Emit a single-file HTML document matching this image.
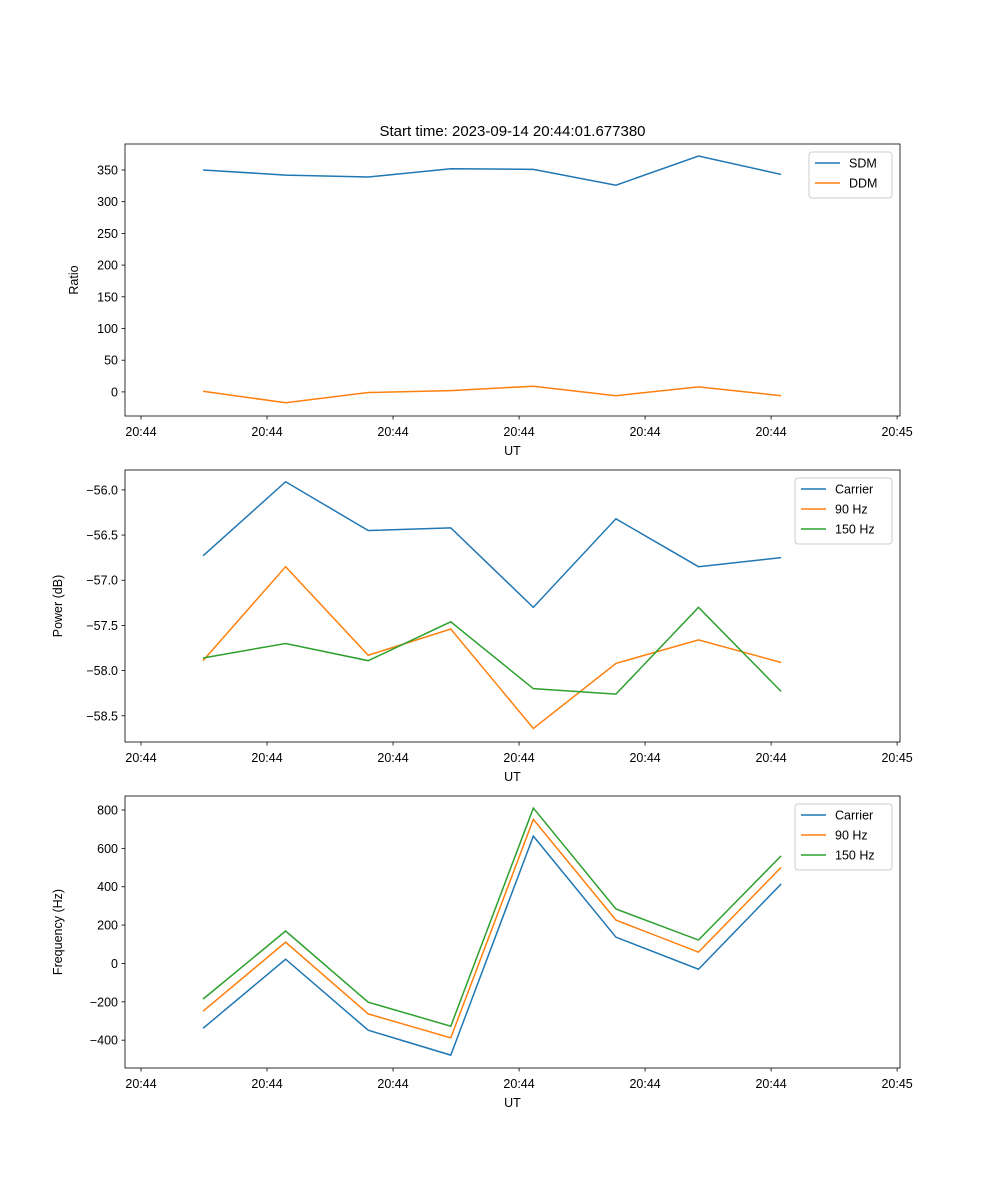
<!DOCTYPE html>
<html><head><meta charset="utf-8"><style>body{margin:0;background:#fff}svg{display:block;font-family:"Liberation Sans","DejaVu Sans",sans-serif}</style></head>
<body>
<svg id="fig" width="1000" height="1200"></svg>
<script>
const categories=[0,1,2,3,4,5,6,7];
const xTickLabels=["20:44","20:44","20:44","20:44","20:44","20:44","20:45"];
const sdm=[350,342,339,352,351,326,372,343];
const ddm=[1,-17,-1,2,9,-6,8,-6];
const powCarrier=[-56.73,-55.91,-56.45,-56.42,-57.30,-56.32,-56.85,-56.75];
const pow90=[-57.89,-56.85,-57.83,-57.54,-58.64,-57.92,-57.66,-57.91];
const pow150=[-57.86,-57.70,-57.89,-57.46,-58.20,-58.26,-57.30,-58.23];
const freqCarrier=[-338,22,-348,-478,664,137,-30,414];
const freq90=[-249,111,-263,-388,751,226,59,501];
const freq150=[-186,169,-202,-327,810,284,122,561];
const ticks1=[0,50,100,150,200,250,300,350];
const ticks2=[-58.5,-58.0,-57.5,-57.0,-56.5,-56.0];
const ticks3=[-400,-200,0,200,400,600,800];
const C=["#1f77b4","#ff7f0e","#2ca02c"];
const NS="http://www.w3.org/2000/svg";
const svg=document.getElementById('fig');
function el(t,a,p){const e=document.createElementNS(NS,t);for(const k in a)e.setAttribute(k,a[k]);(p||svg).appendChild(e);return e;}
const L=125,R=900,xmin=-0.945,xmax=8.44;
const xs=v=>L+(v-xmin)/(xmax-xmin)*(R-L);
const xTickPos=[-0.751,0.775,2.301,3.827,5.353,6.879,8.405];
function panel(top,bot,ymin,ymax,ticks,fmt,ylabel,series,names,legW,id){
  const g=el('g',{});
  
  
  const ys=v=>bot-(v-ymin)/(ymax-ymin)*(bot-top);
  ticks.forEach(t=>{const y=ys(t);el('line',{x1:L-3.5,x2:L,y1:y,y2:y,stroke:'#000','stroke-width':0.8},g);
    const tx=el('text',{x:L-7,y:y+4.5,'text-anchor':'end','font-size':12.5},g);tx.textContent=fmt(t);
    });
  xTickPos.forEach((p,i)=>{const x=xs(p);el('line',{x1:x,x2:x,y1:bot,y2:bot+3.5,stroke:'#000','stroke-width':0.8},g);
    const tx=el('text',{x:x,y:bot+20,'text-anchor':'middle','font-size':12.5},g);tx.textContent=xTickLabels[i];
    });
  const xl=el('text',{x:(L+R)/2,y:bot+39,'text-anchor':'middle','font-size':12.5},g);xl.textContent='UT';
  
  const yl=el('text',{x:0,y:0,'text-anchor':'middle','font-size':12.5,transform:`translate(${L-(ylabel.length>6?63:47)},${(top+bot)/2}) rotate(-90)`},g);yl.textContent=ylabel;
  
  series.forEach((s,k)=>{const pl=el('polyline',{points:s.map((v,i)=>xs(categories[i])+','+ys(v)).join(' '),fill:'none',stroke:C[k],'stroke-width':1.5},g);
    });
  el('rect',{x:L,y:top,width:R-L,height:bot-top,fill:'none',stroke:'#000','stroke-width':0.8},g);
  const lg=el('g',{},g);
  const lx=R-8-legW,ly=top+8,h=6+names.length*20;
  el('rect',{x:lx,y:ly,width:legW,height:h,rx:3,fill:'#fff','fill-opacity':0.8,stroke:'#ccc'},lg);
  names.forEach((n,k)=>{const y=ly+11+k*20;el('line',{x1:lx+6,x2:lx+31,y1:y,y2:y,stroke:C[k],'stroke-width':1.5},lg);
    const t=el('text',{x:lx+40,y:y+4.5,'font-size':12.5},lg);t.textContent=n;
    });
}
panel(144,416,-38,391,ticks1,t=>String(t),'Ratio',[sdm,ddm],['SDM','DDM'],83,'ratio');
panel(470,742,-58.79,-55.78,ticks2,t=>'\u2212'+Math.abs(t).toFixed(1),'Power (dB)',[powCarrier,pow90,pow150],['Carrier','90 Hz','150 Hz'],97,'power');
panel(796,1068,-545,873,ticks3,t=>(t<0?'\u2212':'')+Math.abs(t),'Frequency (Hz)',[freqCarrier,freq90,freq150],['Carrier','90 Hz','150 Hz'],97,'frequency');
const ti=el('text',{x:(L+R)/2,y:136,'text-anchor':'middle','font-size':15});ti.textContent='Start time: 2023-09-14 20:44:01.677380';

</script>
</body></html>
